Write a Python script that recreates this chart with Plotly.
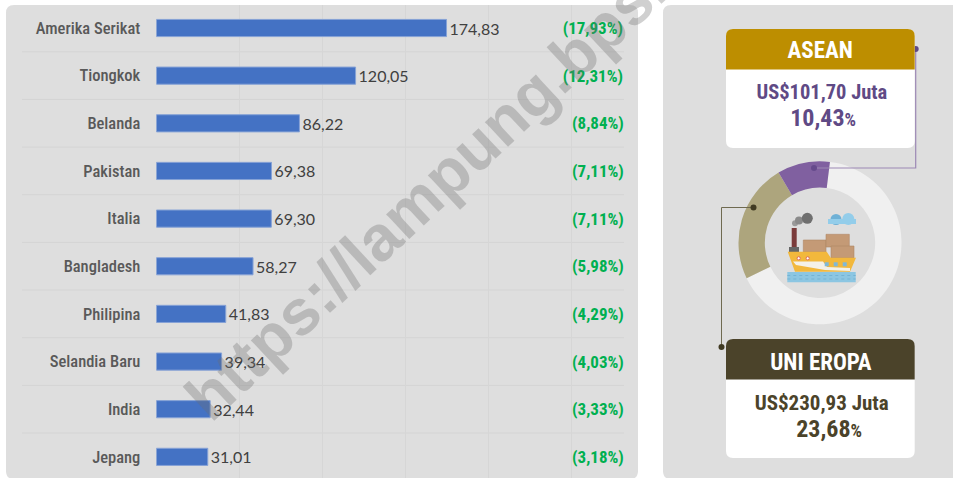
import plotly.graph_objects as go

W, H = 953, 478

# ---- data
countries = ["Amerika Serikat", "Tiongkok", "Belanda", "Pakistan", "Italia",
             "Bangladesh", "Philipina", "Selandia Baru", "India", "Jepang"]
values = [174.83, 120.05, 86.22, 69.38, 69.30, 58.27, 41.83, 39.34, 32.44, 31.01]
shares = ["(17,93%)", "(12,31%)", "(8,84%)", "(7,11%)", "(7,11%)",
          "(5,98%)", "(4,29%)", "(4,03%)", "(3,33%)", "(3,18%)"]
region_names = ["Lainnya", "UNI EROPA", "ASEAN"]
region_pct = [65.89, 23.68, 10.43]
asean_text = ["ASEAN", "US$101,70 Juta", "10,43"]
eu_text = ["UNI EROPA", "US$230,93 Juta", "23,68"]
watermark = "https://lampung.bps.go.id"

PANEL = "#dedede"
NARROW = "Roboto"
ROW = 47.65
PXU = 83.0 / 50


def X(p):
    return p / W


def Y(p):
    return 1 - p / H


def rr(x0, y0, x1, y1, r=7, top=True, bottom=True):
    a, b = X(x0), Y(y0)
    c, d = X(x1), Y(y1)
    rx, ry = r / W, r / H
    p = []
    if top:
        p.append(f"M{a},{b-ry} Q{a},{b} {a+rx},{b} L{c-rx},{b} Q{c},{b} {c},{b-ry}")
    else:
        p.append(f"M{a},{b} L{c},{b}")
    if bottom:
        p.append(f"L{c},{d+ry} Q{c},{d} {c-rx},{d} L{a+rx},{d} Q{a},{d} {a},{d+ry}")
    else:
        p.append(f"L{c},{d} L{a},{d}")
    p.append("Z")
    return " ".join(p)


def poly(pts):
    return "M" + " L".join(f"{X(x)},{Y(y)}" for x, y in pts) + " Z"


shapes = []


def path(d, fill, line=None, lw=0, layer="below"):
    shapes.append(dict(type="path", path=d, xref="paper", yref="paper", fillcolor=fill,
                       line=dict(color=line or fill, width=lw), layer=layer))


def box(x0, y0, x1, y1, fill, layer="above", line=None, lw=0):
    shapes.append(dict(type="rect", xref="paper", yref="paper", x0=X(x0), x1=X(x1), y0=Y(y0), y1=Y(y1),
                       fillcolor=fill, line=dict(color=line or fill, width=lw), layer=layer))


def circ(cx, cy, r, fill, line=None, lw=0, layer="above"):
    shapes.append(dict(type="circle", xref="paper", yref="paper", x0=X(cx - r), x1=X(cx + r),
                       y0=Y(cy - r), y1=Y(cy + r), fillcolor=fill,
                       line=dict(color=line or fill, width=lw), layer=layer))


def seg(pts, color, lw=1, dash="solid"):
    shapes.append(dict(type="path", xref="paper", yref="paper",
                       path="M" + " L".join(f"{X(x)},{Y(y)}" for x, y in pts),
                       line=dict(color=color, width=lw, dash=dash), layer="above"))


# panels
path(rr(6, 5, 638, 479, 8), PANEL)
path(rr(663, 5, 975, 479, 8), PANEL)

# row separators
for i in range(1, 10):
    y = 28 + (i - 0.5) * ROW
    shapes.append(dict(type="line", xref="paper", yref="paper", x0=X(22), x1=X(624), y0=Y(y), y1=Y(y),
                       line=dict(color="#d4d4d4", width=1), layer="below"))

# connectors
seg([(915.7, 49), (915.7, 168), (814, 168)], "#9c88b4", 1.2)
seg([(754, 207.5), (721.5, 207.5), (721.5, 347)], "#6f6a50", 1)
circ(915.7, 49, 3, "#5f4a85")
circ(814, 168, 3, "#664a8c")
circ(753.5, 207.5, 3, "#403a22")
circ(721.5, 347, 3, "#403a22")

# info boxes
path(rr(726, 29, 914.7, 148), "#ffffff", layer="above")
path(rr(726, 29, 914.7, 69.5, top=True, bottom=False), "#bd8e00", layer="above")
path(rr(726, 339, 914.7, 458), "#ffffff", layer="above")
path(rr(726, 339, 914.7, 379.5, top=True, bottom=False), "#4b432a", layer="above")

# icon : smoke, clouds
circ(795, 223.3, 3, "#9a9a9a")
circ(799, 220.5, 4, "#8a8a8a")
circ(807.3, 218.3, 5.5, "#6f6f6f")
circ(836, 219.5, 5.5, "#6fb1d6")
circ(848.3, 219, 6, "#93cdea")
box(828, 219, 856, 224, "#93cdea")
# chimney
box(791.7, 228, 796.7, 247, "#7a3b3b")
box(789, 247, 799, 252, "#666666")
# containers
for (a, b, c, d) in [(803.3, 240, 826, 252), (826, 234.3, 849.3, 247), (831, 246, 854, 258)]:
    box(a, b, c, d, "#c49a76", line="#b08765", lw=0.6)
# hull
path(poly([(787.7, 251.7), (826.7, 251.7), (830.7, 257.7), (856, 257.7), (850, 271.7), (795, 271.7)]),
     "#f2b83c", layer="above")
path(poly([(793, 261.5), (823, 261.5), (827, 267), (850, 268), (850, 271), (825, 270), (796, 265)]),
     "#f4f1e8", layer="above")
for cx in (798.7, 807.7):
    circ(cx, 258.3, 1.6, "#ffffff", "#df6a5c", 1)
for cx in (826.7, 835.7, 844.7):
    box(cx - 2, 262.3, cx + 2, 266.3, "#7fb8d8")
# water
box(787.3, 272, 855.7, 282.3, "#8cc6e2")
seg([(787.3, 275.5), (855.7, 275.5)], "#6faed0", 0.8, "dot")
seg([(787.3, 279), (855.7, 279)], "#6faed0", 0.8, "dot")

fig = go.Figure()
fig.add_trace(go.Bar(
    y=countries, x=values, orientation="h",
    marker=dict(color="#4472c4", line=dict(color="#86a2d6", width=1)),
    text=[f"{v:.2f}".replace(".", ",") for v in values],
    textposition="outside", cliponaxis=False, constraintext="none",
    textfont=dict(family="Lato", size=16, color="#404040"),
    hoverinfo="skip", showlegend=False,
))
fig.add_trace(go.Pie(
    labels=region_names, values=region_pct, sort=False, direction="clockwise",
    rotation=7, hole=0.677, textinfo="none", showlegend=False,
    marker=dict(colors=["#f0f0f0", "#ada57d", "#8060a0"], line=dict(width=0)),
    domain=dict(x=[X(738.3), X(901.7)], y=[Y(324.3), Y(161.3)]),
))

ann = []


def txt(x, y, s, size, color, bold=False, family=NARROW, anchor="center"):
    ann.append(dict(xref="paper", yref="paper", x=X(x), y=Y(y), text=f"<b>{s}</b>" if bold else s,
                    showarrow=False, xanchor=anchor, yanchor="middle",
                    font=dict(family=family, size=size, color=color)))


for i, s in enumerate(shares):
    txt(629, 28 + i * ROW, s, 17, "#00b050", True, anchor="right")

txt(820, 51, asean_text[0], 23, "#ffffff", True)
txt(821.5, 92, asean_text[1], 20.5, "#5f4a85", True)
txt(823, 118, asean_text[2] + "<span style='font-size:18px'>%</span>", 24, "#5f4a85", True)
txt(821, 362, eu_text[0], 23, "#ffffff", True)
txt(821.5, 403, eu_text[1], 21, "#4b432a", True)
txt(828.5, 429, eu_text[2] + "<span style='font-size:18px'>%</span>", 24, "#4b432a", True)

ann.append(dict(xref="paper", yref="paper", x=X(482), y=Y(141), text=f"<b>{watermark}</b>",
                showarrow=False, textangle=-43, xanchor="center", yanchor="middle",
                font=dict(family="Liberation Sans", size=64, color="rgba(110,110,110,0.32)")))

fig.update_layout(
    width=W, height=H, margin=dict(l=0, r=0, t=0, b=0), autosize=False,
    paper_bgcolor="#ffffff", plot_bgcolor="rgba(0,0,0,0)",
    shapes=shapes, annotations=ann, bargap=0.64,
    xaxis=dict(domain=[X(156.3), X(624)], range=[0, (624 - 156.3) / PXU], dtick=50, showgrid=True,
               gridcolor="#d6d6d6", gridwidth=1, zeroline=False, showticklabels=False, ticks="",
               showline=False),
    yaxis=dict(domain=[0, Y(5)], autorange=False, range=[(478 - 28) / ROW, (5 - 28) / ROW],
               type="category", categoryorder="array", categoryarray=countries, showgrid=False,
               showline=False, zeroline=False, ticks="", ticklabelstandoff=15,
               tickfont=dict(family=NARROW, size=16.5, color="#595959", weight=500)),
)
post = """
document.body.style.margin='0';
var st=document.createElement('style');
st.textContent=".ytick text,.annotation-text{font-stretch:condensed !important;}";
document.head.appendChild(st);
"""
fig.write_html("out.html", post_script=post, config=dict(displayModeBar=False))
